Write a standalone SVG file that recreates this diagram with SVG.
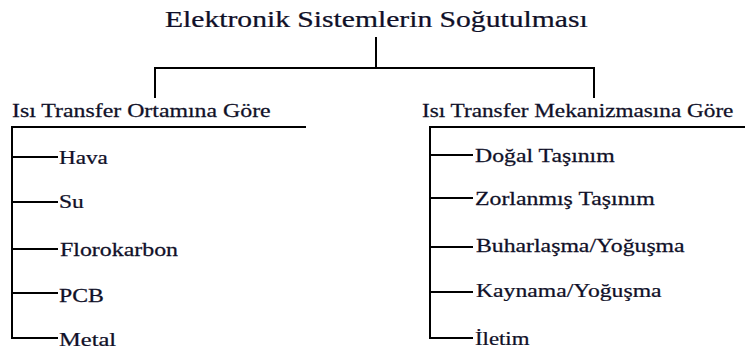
<svg xmlns="http://www.w3.org/2000/svg" width="745" height="349" viewBox="0 0 745 349">
  <style>
    text { font-family: "Liberation Serif", "Times New Roman", serif; fill: #101028; stroke: #101028; stroke-width: 0.25; }
    .title { font-size: 23px; }
    .sub { font-size: 18px; }
    .item { font-size: 19px; }
    .ln { stroke: #000; stroke-width: 2; fill: none; stroke-linecap: square; }
  </style>
  <rect width="745" height="349" fill="#ffffff"/>

  <g id="connectors">
    <path class="ln" d="M376 38 V68 M155 68 H594 M155 68 V97 M594 68 V97"/>
    <!-- left branch -->
    <path class="ln" d="M12 127 H305 M12 127 V338 H57 M12 157 H57 M12 202 H57 M12 249 H57 M12 293 H57"/>
    <!-- right branch -->
    <path class="ln" d="M430 127 H745 M430 127 V338 H472 M430 155 H472 M430 198 H472 M430 247 H472 M430 292 H472"/>
  </g>

  <!-- text is drawn with a horizontal stretch -->
  <g id="root">
    <text class="title" transform="translate(165 27) scale(1.288 1)">Elektronik Sistemlerin Soğutulması</text>
  </g>

  <g id="by-medium">
    <text class="sub" transform="translate(12 117) scale(1.324 1)">Isı Transfer Ortamına Göre</text>
  </g>
  <g id="by-mechanism">
    <text class="sub" transform="translate(422 117) scale(1.291 1)">Isı Transfer Mekanizmasına Göre</text>
  </g>

  <g id="hava"><text class="item" transform="translate(59 164) scale(1.22 1)">Hava</text></g>
  <g id="su"><text class="item" transform="translate(59 208) scale(1.24 1)">Su</text></g>
  <g id="florokarbon"><text class="item" transform="translate(60 256) scale(1.257 1)">Florokarbon</text></g>
  <g id="pcb"><text class="item" transform="translate(59 302) scale(1.25 1)">PCB</text></g>
  <g id="metal"><text class="item" transform="translate(59 346) scale(1.29 1)">Metal</text></g>

  <g id="dogal"><text class="item" transform="translate(475 162) scale(1.25 1)">Doğal Taşınım</text></g>
  <g id="zorlanmis"><text class="item" transform="translate(475 205) scale(1.254 1)">Zorlanmış Taşınım</text></g>
  <g id="buharlasma"><text class="item" transform="translate(476 252) scale(1.25 1)">Buharlaşma/Yoğuşma</text></g>
  <g id="kaynama"><text class="item" transform="translate(476 297) scale(1.246 1)">Kaynama/Yoğuşma</text></g>
  <g id="iletim"><text class="item" transform="translate(475 345) scale(1.2 1)">İletim</text></g>
</svg>
